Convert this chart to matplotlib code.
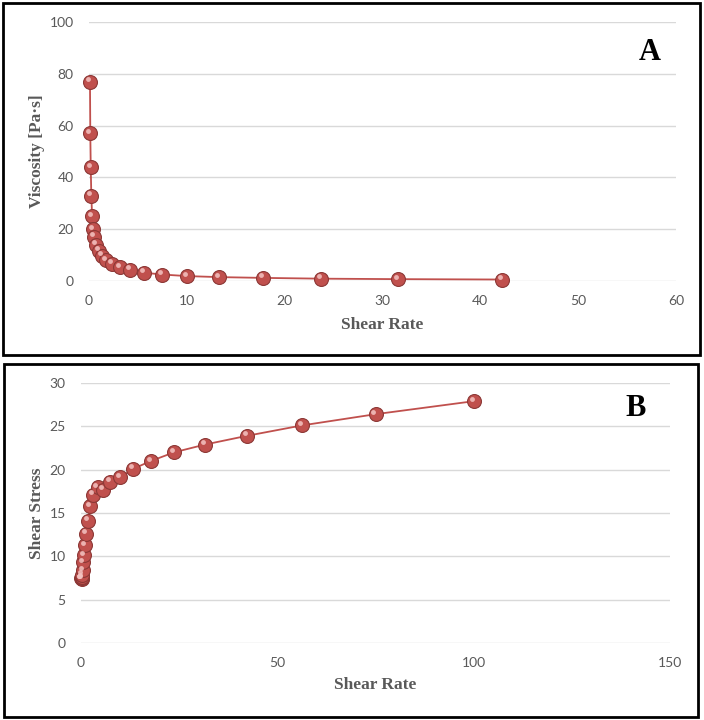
import matplotlib
matplotlib.use("Agg")
import matplotlib.pyplot as plt
from matplotlib.patches import Rectangle
from matplotlib.transforms import offset_copy

# shear rates (log spaced, 4 per decade)
shear_rate = [0.1, 0.133, 0.178, 0.237, 0.316, 0.422, 0.562, 0.75,
              1.0, 1.33, 1.78, 2.37, 3.16, 4.22, 5.62, 7.5,
              10.0, 13.3, 17.8, 23.7, 31.6, 42.2, 56.2, 75.0, 100.0]

# panel A: viscosity, only up to 42 s^-1
viscosity = [77, 57, 44, 33, 25, 20, 17, 14, 11.7, 9.7, 8.1, 6.6,
             5.3, 4.3, 3.2, 2.5, 1.9, 1.5, 1.2, 0.9, 0.72, 0.57]

# panel B: shear stress
shear_stress = [7.5, 7.4, 7.5, 7.6, 7.85, 8.4, 9.3, 10.1, 11.3, 12.6, 14.1,
                15.8, 17.1, 18.0, 17.7, 18.6, 19.1, 20.1, 21.0, 22.0, 22.9,
                23.9, 25.1, 26.4, 27.9]

A_xticks = [0, 10, 20, 30, 40, 50, 60]
A_yticks = [0, 20, 40, 60, 80, 100]
B_xticks = [0, 50, 100, 150]
B_yticks = [0, 5, 10, 15, 20, 25, 30]

RED = "#C0504D"
EDGE = "#8C3836"
GRAY = "#595959"
GRID = "#D9D9D9"
W, H = 704, 720

fig = plt.figure(figsize=(W / 100, H / 100), dpi=100)


def px_axes(x0, x1, y_top, y_bot):
    return fig.add_axes([x0 / W, 1 - y_bot / H, (x1 - x0) / W, (y_bot - y_top) / H])


def style(ax, xt, yt, xlabel, ylabel, xl_y, yl_x):
    ax.set_xticks(xt)
    ax.set_yticks(yt)
    ax.set_xlim(xt[0], xt[-1])
    ax.set_ylim(yt[0], yt[-1])
    for s in ax.spines.values():
        s.set_visible(False)
    ax.grid(axis="y", color=GRID, lw=1.0)
    ax.set_axisbelow(True)
    ax.tick_params(length=0, labelcolor=GRAY, labelsize=10)
    ax.tick_params(axis="y", pad=11)
    ax.tick_params(axis="x", pad=10)
    for lab in ax.get_xticklabels() + ax.get_yticklabels():
        lab.set_family("Lato")
    ax.set_xlabel(xlabel, family="Liberation Serif", weight="bold",
                  size=12.5, color=GRAY, va="center")
    ax.set_ylabel(ylabel, family="Liberation Serif", weight="bold",
                  size=12.5, color=GRAY, va="center")
    ax.xaxis.set_label_coords(0.5, xl_y)
    ax.yaxis.set_label_coords(yl_x, 0.5)


def draw(ax, x, y):
    ax.plot(x, y, color=RED, lw=1.3, marker="o", ms=10, mfc=RED,
            mec=EDGE, mew=0.8, clip_on=False, zorder=3)
    # small highlight to mimic the shaded spheres
    hl = offset_copy(ax.transData, fig=fig, x=-1.5, y=1.8, units="points")
    ax.plot(x, y, ls="none", marker="o", ms=3.5, mfc="#F4C4C2", mec="none",
            alpha=0.85, transform=hl, clip_on=False, zorder=4)


# panel A
axA = px_axes(89, 676, 22, 281)
draw(axA, shear_rate[:len(viscosity)], viscosity)
style(axA, A_xticks, A_yticks, "Shear Rate", "Viscosity [Pa·s]", -0.17, -0.089)
fig.text(650 / W, 1 - 52 / H, "A", family="Liberation Serif", weight="bold",
         size=22, ha="center", va="center", color="black")

# panel B
axB = px_axes(81, 670, 383, 643)
draw(axB, shear_rate, shear_stress)
style(axB, B_xticks, B_yticks, "Shear Rate", "Shear Stress", -0.162, -0.075)
fig.text(636 / W, 1 - 408 / H, "B", family="Liberation Serif", weight="bold",
         size=22, ha="center", va="center", color="black")

# panel frames
for x0, y0, x1, y1 in [(3, 3, 700, 355), (4, 364, 698, 717)]:
    fig.add_artist(Rectangle((x0 / W, 1 - y1 / H), (x1 - x0) / W, (y1 - y0) / H,
                             transform=fig.transFigure, fill=False,
                             edgecolor="black", lw=2))

fig.savefig("out.png", dpi=100)
